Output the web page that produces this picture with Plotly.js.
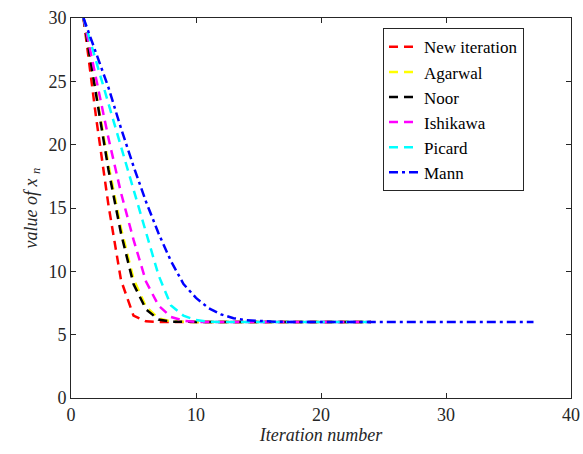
<!DOCTYPE html>
<html>
<head>
<meta charset="utf-8">
<script src="https://cdn.plot.ly/plotly-3.0.1.min.js"></script>
<style>
.fontwarm{position:absolute;left:0;top:0;font-family:'Liberation Serif';font-size:18px;color:#fff;opacity:0.01;pointer-events:none;}
</style>
</head>
<body style="margin:0;padding:0;background:#fff">
<div class="fontwarm">Iteration 0123456789 <i>value of x n</i></div>
<div id="chart" style="width:583px;height:454px;position:relative"></div>
<script>
var seriesNames = ["New iteration", "Agarwal", "Noor", "Ishikawa", "Picard", "Mann"];
var seriesColors = ["#ff0000", "#ffff00", "#000000", "#ff00ff", "#00ffff", "#0000ff"];

var newIter = [30, 22.2, 15.2, 9.3, 6.5, 6.05, 6.0, 6, 6, 6, 6, 6, 6, 6, 6, 6, 6, 6, 6, 6, 6, 6, 6, 6];
var agarwal = [30, 24.3, 18.4, 13.4, 9.4, 7.2, 6.3, 6.05, 6.0, 6, 6, 6, 6, 6, 6, 6, 6, 6, 6, 6, 6, 6, 6, 6];
var noor    = [30, 24.0, 18.0, 13.0, 9.0, 7.0, 6.2, 6.02, 6.0, 6, 6, 6, 6, 6, 6, 6, 6, 6, 6, 6, 6, 6, 6, 6];
var ishikawa= [30, 25.2, 20.5, 16.2, 12.5, 9.2, 7.3, 6.4, 6.1, 6.0, 6, 6, 6, 6, 6, 6, 6, 6, 6, 6, 6, 6, 6, 6];
var picard  = [30, 26.6, 23.2, 19.9, 16.5, 13.1, 9.7, 7.3, 6.5, 6.15, 6.03, 6.0, 6, 6, 6, 6, 6, 6, 6, 6, 6, 6, 6, 6];
var mann    = [30, 27.3, 24.5, 21.3, 18.3, 15.5, 13.0, 10.8, 9.0, 7.9, 7.1, 6.6, 6.3, 6.15, 6.07, 6.03, 6.01, 6.0,
               6, 6, 6, 6, 6, 6, 6, 6, 6, 6, 6, 6, 6, 6, 6, 6, 6, 6, 6];
var xTicks = [0, 10, 20, 30, 40];
var yTicks = [0, 5, 10, 15, 20, 25, 30];

function iters(n) { var a = []; for (var i = 1; i <= n; i++) a.push(i); return a; }

var allValues = [newIter, agarwal, noor, ishikawa, picard, mann];
var dashes = ["9px,6px", "9px,6px", "9px,6px", "9px,6px", "9px,6px", "9px,4px,3px,4px"];

var traces = allValues.map(function (vals, k) {
  return {
    x: iters(vals.length), y: vals, type: "scatter", mode: "lines", name: seriesNames[k],
    line: { color: seriesColors[k], width: 2.5, dash: dashes[k] }
  };
});

var serifFamily = "Liberation Serif, Times New Roman, serif";

var layout = {
  width: 583, height: 454,
  margin: { l: 71, r: 12, t: 18, b: 56 },
  font: { family: serifFamily, size: 18, color: "#262626" },
  legend: {
    x: 0.624, y: 0.973, xanchor: "left", yanchor: "top",
    bordercolor: "#262626", borderwidth: 1,
    font: { family: serifFamily, size: 17, color: "#000000" }
  },
  xaxis: {
    range: [0, 40], tickvals: xTicks,
    ticks: "inside", ticklen: 5, tickcolor: "#262626",
    showline: true, linecolor: "#262626", mirror: "ticks",
    showgrid: false, zeroline: false,
    tickfont: { family: serifFamily, size: 18 },
    title: { text: "<i>Iteration number</i>", standoff: 4, font: { family: serifFamily, size: 18 } }
  },
  yaxis: {
    range: [0, 30], tickvals: yTicks,
    ticks: "inside", ticklen: 5, tickcolor: "#262626",
    showline: true, linecolor: "#262626", mirror: "ticks",
    showgrid: false, zeroline: false,
    tickfont: { family: serifFamily, size: 18 },
    title: { text: "<i>value of x <sub>n</sub></i>", standoff: 6, font: { family: serifFamily, size: 18 } }
  }
};

function draw() {
  Plotly.newPlot("chart", traces, layout, { displayModeBar: false });
}
if (document.fonts && document.fonts.ready) {
  document.fonts.load("18px 'Liberation Serif'").then(function () {
    return document.fonts.load("italic 18px 'Liberation Serif'");
  }).then(draw, draw);
} else {
  draw();
}
</script>
</body>
</html>
